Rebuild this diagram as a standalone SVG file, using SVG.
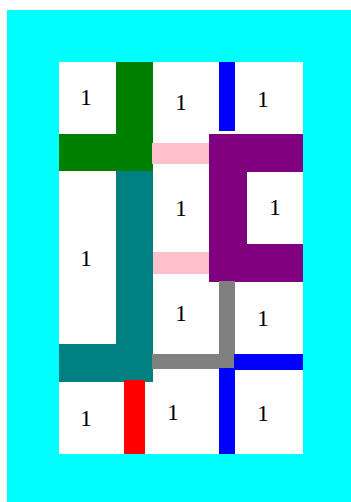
<svg xmlns="http://www.w3.org/2000/svg" width="351" height="502" viewBox="0 0 351 502">
<style>
.lbl{font-family:"Liberation Serif","Times New Roman",serif;font-size:24px;fill:#000;text-anchor:middle}
</style>
<rect x="0" y="0" width="351" height="502" fill="#fff"/>
<rect id="frame" x="7" y="10" width="344" height="492" fill="#00ffff"/>
<rect id="board" x="59" y="62" width="244" height="392" fill="#fff"/>
<g id="connectors">
<g id="green" fill="#008000">
<rect x="116" y="62" width="37" height="109"/>
<rect x="59" y="134" width="94" height="37"/>
</g>
<rect id="blue-top" x="219" y="62" width="16" height="69" fill="#0000ff"/>
<g id="purple" fill="#800080">
<rect x="209" y="134" width="94" height="38"/>
<rect x="209" y="134" width="38" height="148"/>
<rect x="209" y="244" width="94" height="38"/>
</g>
<rect id="pink-top" x="152" y="143" width="57" height="21" fill="#ffc0cb"/>
<rect id="pink-bottom" x="153" y="252" width="56" height="22" fill="#ffc0cb"/>
<g id="teal" fill="#008080">
<rect x="116" y="171" width="37" height="211"/>
<rect x="59" y="344" width="94" height="38"/>
</g>
<g id="gray" fill="#808080">
<rect x="219" y="281" width="16" height="88"/>
<rect x="152" y="354" width="83" height="15"/>
</g>
<g id="blue-bottom" fill="#0000ff">
<rect x="234" y="354" width="69" height="16"/>
<rect x="219" y="368" width="16" height="86"/>
</g>
<rect id="red" x="124" y="380" width="21" height="74" fill="#ff0000"/>
</g>
<g id="n1"><text class="lbl" x="86" y="105">1</text></g>
<g id="n2"><text class="lbl" x="181" y="110">1</text></g>
<g id="n3"><text class="lbl" x="263" y="107">1</text></g>
<g id="n4"><text class="lbl" x="181" y="216">1</text></g>
<g id="n5"><text class="lbl" x="275" y="215">1</text></g>
<g id="n6"><text class="lbl" x="86" y="266">1</text></g>
<g id="n7"><text class="lbl" x="181" y="321">1</text></g>
<g id="n8"><text class="lbl" x="263" y="326">1</text></g>
<g id="n9"><text class="lbl" x="86" y="426">1</text></g>
<g id="n10"><text class="lbl" x="173" y="420">1</text></g>
<g id="n11"><text class="lbl" x="263" y="421">1</text></g>
</svg>
